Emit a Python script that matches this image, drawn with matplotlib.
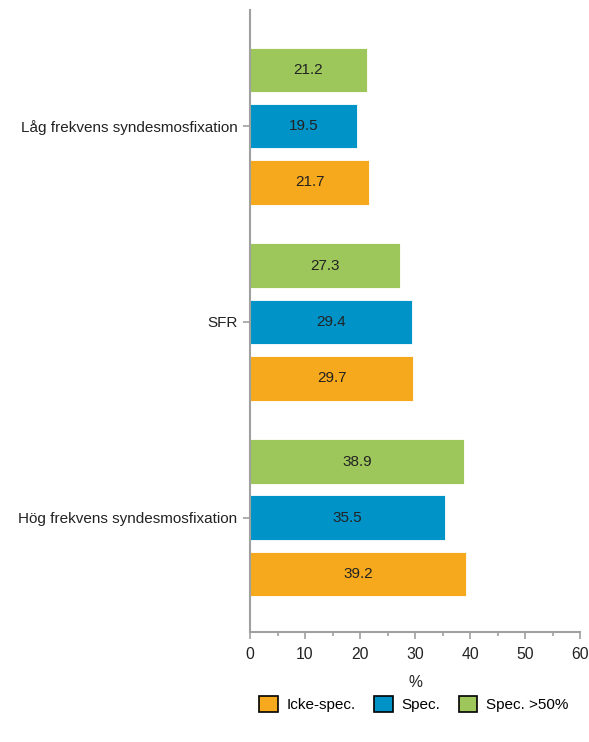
import matplotlib.pyplot as plt
import matplotlib.patches as mpatches
import numpy as np

plt.rcParams['font.family'] = ['Liberation Sans', 'DejaVu Sans']

categories = ["Hög frekvens syndesmosfixation", "SFR", "Låg frekvens syndesmosfixation"]
series_names = ["Icke-spec.", "Spec.", "Spec. >50%"]
icke_spec = [39.2, 29.7, 21.7]
spec = [35.5, 29.4, 19.5]
spec_50 = [38.9, 27.3, 21.2]
colors = ["#F7A91D", "#0093C8", "#9EC75B"]

fig = plt.figure(figsize=(5.89, 7.42), dpi=100)
ax = fig.add_axes([250 / 589, 1 - 632 / 742, 330 / 589, 622 / 742])

y = np.arange(len(categories))
offset = 0.287
height = 0.228
for vals, off, col in zip([icke_spec, spec, spec_50], [-offset, 0, offset], colors):
    bars = ax.barh(y + off, vals, height=height, color=col, edgecolor="white", linewidth=0.6)
    for b, v in zip(bars, vals):
        ax.text(v / 2, b.get_y() + b.get_height() / 2, f"{v:.1f}",
                ha="center", va="center", fontsize=11, color="#222222")

ax.set_xlim(0, 60)
ax.set_ylim(-0.583, 2.593)
ax.set_yticks(y)
ax.set_yticklabels(categories, fontsize=11, color="#222222")
ax.set_xticks(np.arange(0, 61, 10))
ax.set_xticks(np.arange(5, 60, 10), minor=True)
ax.tick_params(axis="x", which="major", length=5, width=1.2, color="#A0A0A0", labelsize=11.3,
               labelcolor="#222222", pad=6)
ax.tick_params(axis="x", which="minor", length=3, width=1.2, color="#A0A0A0")
ax.tick_params(axis="y", length=5, width=1.2, color="#A0A0A0", pad=4)
ax.set_xlabel("%", fontsize=11.3, color="#222222", labelpad=9)

for side in ["top", "right"]:
    ax.spines[side].set_visible(False)
for side in ["left", "bottom"]:
    ax.spines[side].set_color("#A0A0A0")
    ax.spines[side].set_linewidth(1.5)

handles = [mpatches.Patch(facecolor=c, edgecolor="black", linewidth=1.2, label=n)
           for c, n in zip(colors, series_names)]
fig.legend(handles=handles, loc="center", bbox_to_anchor=(414 / 589, 1 - 704 / 742),
           ncol=3, frameon=False, fontsize=11, handlelength=1.2, handleheight=1.2,
           columnspacing=1.2, handletextpad=0.6)

fig.savefig("out.png", dpi=100)
